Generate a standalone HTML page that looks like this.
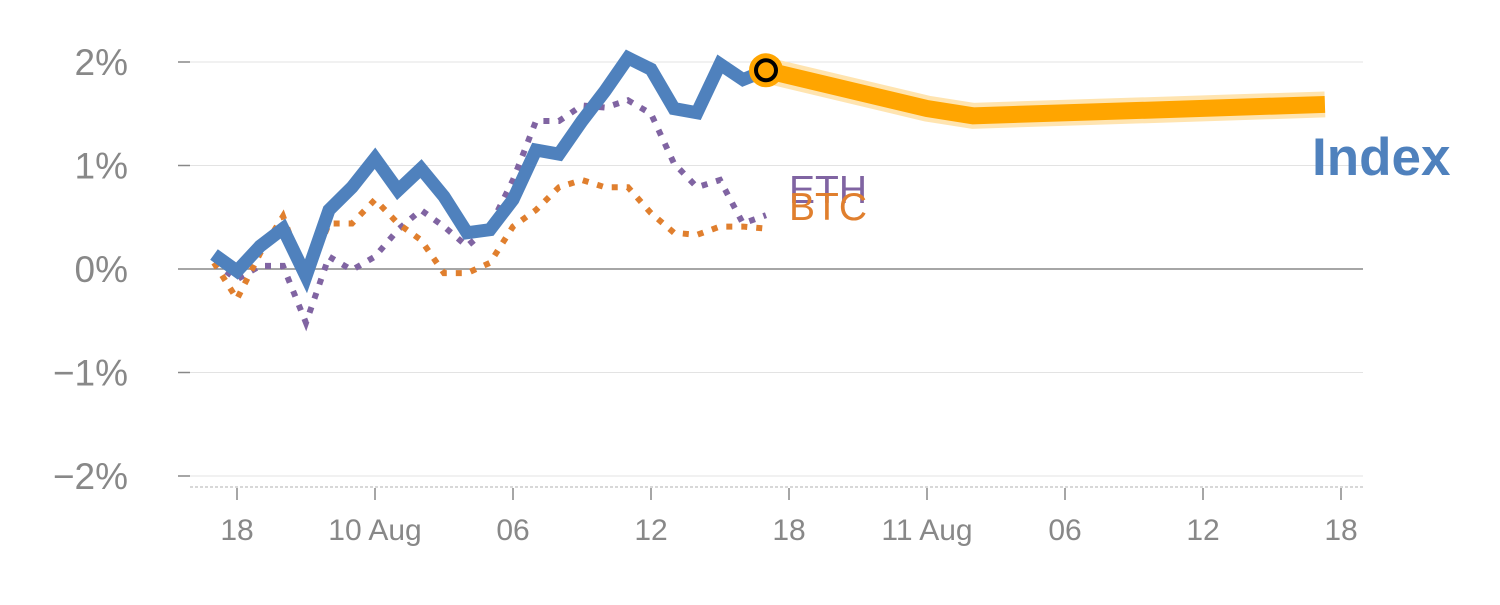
<!DOCTYPE html>
<html><head><meta charset="utf-8"><style>
html,body{margin:0;padding:0;background:#fff;}
svg text{font-family:"Liberation Sans",sans-serif;}
</style></head><body>
<svg id="chart" width="1500" height="600" xmlns="http://www.w3.org/2000/svg"></svg>
<script>
const yTicks=[2,1,0,-1,-2];
const yTickLabels=["2%","1%","0%","\u22121%","\u22122%"];
const xTickSteps=[0,6,12,18,24,30,36,42,48];
const xTickLabels=["18","10 Aug","06","12","18","11 Aug","06","12","18"];
const indexValues=[0.14,-0.02,0.22,0.39,-0.07,0.57,0.79,1.07,0.76,0.97,0.70,0.35,0.38,0.67,1.15,1.11,1.43,1.72,2.04,1.93,1.55,1.51,1.98,1.83,1.92];
const ethValues=[0.06,-0.1,0.03,0.03,-0.52,0.12,-0.01,0.12,0.38,0.57,0.41,0.22,0.41,0.86,1.43,1.43,1.58,1.56,1.63,1.50,1.02,0.79,0.86,0.44,0.52];
const btcValues=[0.06,-0.29,0.15,0.51,-0.1,0.44,0.44,0.67,0.44,0.28,-0.04,-0.04,0.06,0.41,0.57,0.79,0.86,0.79,0.79,0.54,0.35,0.33,0.41,0.41,0.39];
const forecastSteps=[23,30,32,47.3];
const forecastValues=[1.92,1.55,1.48,1.59];

const svg=document.getElementById('chart');
const NS='http://www.w3.org/2000/svg';
const x=s=>237+23*s;
const y=v=>269-103.5*v;
function mk(tag,attrs,parent){const e=document.createElementNS(NS,tag);for(const k in attrs)e.setAttribute(k,attrs[k]);(parent||svg).appendChild(e);return e;}

yTicks.forEach((t,i)=>{
  const g=mk('line',{x1:190,x2:1363,y1:y(t),y2:y(t),stroke:t===0?'#888':'#e3e3e3','stroke-width':t===0?1.5:1});
  
  
  const tk=mk('line',{x1:178,x2:190,y1:y(t),y2:y(t),stroke:'#888','stroke-width':1.5});
  
  
  const tx=mk('text',{x:128,y:y(t)+13,'text-anchor':'end','font-size':37,fill:'#888'});
  tx.textContent=yTickLabels[i];
  
  
});
const ax=mk('line',{x1:190,x2:1363,y1:487,y2:487,stroke:'#ccc','stroke-width':1.5,'stroke-dasharray':'3,2'});


xTickSteps.forEach((s,i)=>{
  const tk=mk('line',{x1:x(s),x2:x(s),y1:488,y2:500,stroke:'#888','stroke-width':1.5});
  
  
  const tx=mk('text',{x:x(s),y:540,'text-anchor':'middle','font-size':30,fill:'#888'});
  tx.textContent=xTickLabels[i];
  
  
});
function pts(vals,start){return vals.map((v,i)=>x(start+i)+','+y(v)).join(' ');}
const eth=mk('polyline',{points:pts(ethValues,-1),fill:'none',stroke:'#8064a2','stroke-width':6,'stroke-dasharray':'6,9'});


const btc=mk('polyline',{points:pts(btcValues,-1),fill:'none',stroke:'#e07f2e','stroke-width':6,'stroke-dasharray':'6,9'});


const idx=mk('polyline',{points:pts(indexValues,-1),fill:'none',stroke:'#4f81bd','stroke-width':13,'stroke-linejoin':'miter'});


const fp=forecastSteps.map((s,i)=>x(s)+','+y(forecastValues[i])).join(' ');
const halo=mk('polyline',{points:fp,fill:'none',stroke:'#ffe4b0','stroke-width':26});


const fc=mk('polyline',{points:fp,fill:'none',stroke:'#ffa500','stroke-width':17});


const m1=mk('circle',{cx:x(forecastSteps[0]),cy:y(forecastValues[0]),r:17,fill:'#ffa500'});


const m2=mk('circle',{cx:x(forecastSteps[0]),cy:y(forecastValues[0]),r:10,fill:'#ffa500',stroke:'#000','stroke-width':4});


const l1=mk('text',{x:789,y:203,'font-size':39,fill:'#8064a2'});l1.textContent='ETH';


const l2=mk('text',{x:789,y:220,'font-size':39,fill:'#e07f2e'});l2.textContent='BTC';


const l3=mk('text',{x:1312,y:175,'font-size':53,'font-weight':'bold',fill:'#4f81bd'});l3.textContent='Index';


</script>
</body></html>
